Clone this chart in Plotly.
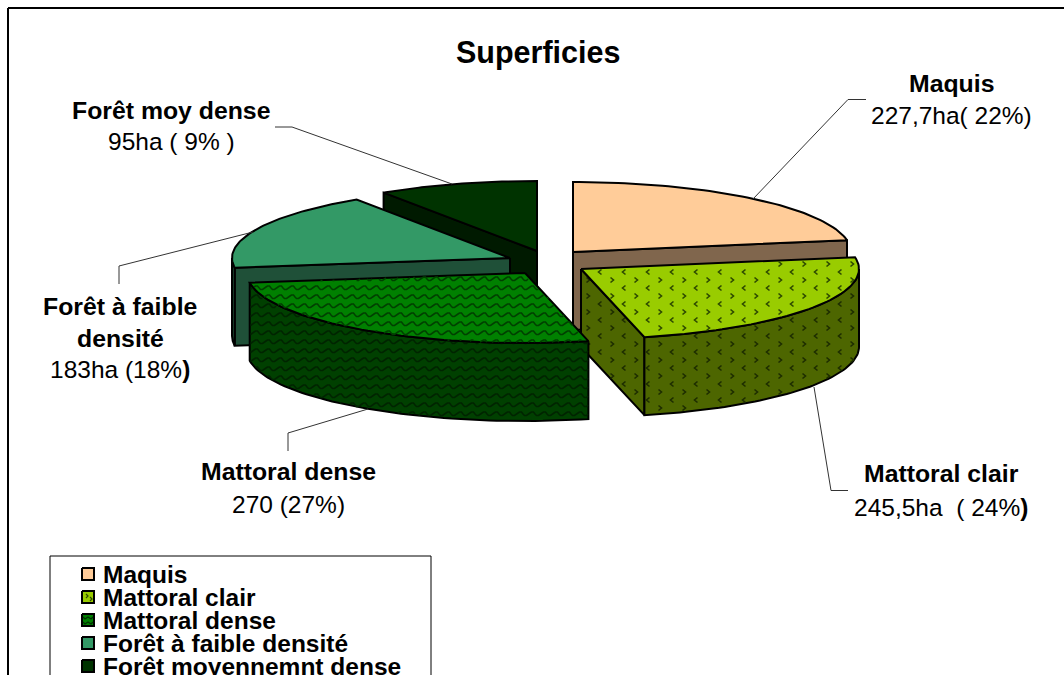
import math
import plotly.graph_objects as go

# ---- data ----
categories = ["Maquis", "Mattoral clair", "Mattoral dense", "Forêt à faible densité", "Forêt moyennemnt dense"]
superficie_ha = [227.7, 245.5, 270, 183, 95]
label_titles = ["Maquis", "Mattoral clair", "Mattoral dense", "Forêt à faible<br>densité", "Forêt moy dense"]
label_values = ["227,7ha( 22%)", "245,5ha  ( 24%<b>)</b>", "270 (27%)", "183ha (18%<b>)</b>", "95ha ( 9% )"]

# ---- styling / layout constants (pixel canvas) ----
W, H = 1064, 675
RX, RY, DEPTH = 278, 70, 78
apex = [(573, 252), (581, 269), (525, 273), (510, 258), (537, 251)]
top_col = ["#FFCC99", "#99CC00", "#008000", "#339966", "#003300"]
side_col = ["#80664D", "#4D6600", "#004000", "#1F5038", "#001A00"]
draw_order = [4, 3, 0, 1, 2]
texture = [None, "chevron", "wave", None, None]
FONT = "Liberation Sans"

total = sum(superficie_ha)
cum = [0]
for v in superficie_ha:
    cum.append(cum[-1] + v / total * 360)


def pt(c, deg, dy=0):
    r = math.radians(deg)
    return c[0] + RX * math.sin(r), c[1] - RY * math.cos(r) + dy


def arc(c, a, b, dy=0, n=60):
    return [pt(c, a + (b - a) * i / n, dy) for i in range(n + 1)]


def poly(pts, fill, lw=2):
    xs = [p[0] for p in pts] + [pts[0][0]]
    ys = [p[1] for p in pts] + [pts[0][1]]
    return go.Scatter(x=xs, y=ys, mode="lines", fill="toself", fillcolor=fill,
                      line=dict(color="#000000", width=lw), hoverinfo="skip", showlegend=False)


def inside(p, pts):
    x, y = p
    res = False
    n = len(pts)
    for i in range(n):
        x1, y1 = pts[i]
        x2, y2 = pts[(i + 1) % n]
        if (y1 > y) != (y2 > y) and x < x1 + (y - y1) / (y2 - y1) * (x2 - x1):
            res = not res
    return res


WAVE_SHAPE = [(0, 0), (2, -1), (3.5, -2), (5.5, -2), (7, 0), (8.5, 1.5), (10.5, 1.5), (12, 0)]


def texture_traces(pts, kind, colour):
    xmin, xmax = min(p[0] for p in pts), max(p[0] for p in pts)
    ymin, ymax = min(p[1] for p in pts), max(p[1] for p in pts)
    xs, ys = [], []
    if kind == "wave":
        y = ymin - (ymin % 9)
        while y <= ymax:
            x0 = xmin - (xmin % 12)
            prev = False
            while x0 <= xmax:
                for dx, dy in WAVE_SHAPE:
                    p = (x0 + dx, y + dy)
                    ok = inside(p, pts)
                    if ok:
                        xs.append(p[0]); ys.append(p[1])
                    elif prev:
                        xs.append(None); ys.append(None)
                    prev = ok
                x0 += 12
            xs.append(None); ys.append(None)
            prev = False
            y += 9
        return go.Scatter(x=xs, y=ys, mode="lines", line=dict(color=colour, width=1.6),
                          hoverinfo="skip", showlegend=False)
    # chevron: rows of < and > glyphs
    y0 = ymin - (ymin % 16)
    row = 0
    y = y0
    while y <= ymax:
        step = 24
        x = xmin - (xmin % step) + (12 if row % 2 else 0)
        sx = 1 if row % 2 else -1
        while x <= xmax:
            a = (x - sx * 1.5, y - 2.5)
            b = (x + sx * 1.5, y)
            c = (x - sx * 1.5, y + 2.5)
            if inside(a, pts) and inside(b, pts) and inside(c, pts):
                xs += [a[0], b[0], c[0], None]
                ys += [a[1], b[1], c[1], None]
            x += step
        y += 8
        row += 1
    return go.Scatter(x=xs, y=ys, mode="lines", line=dict(color=colour, width=1.6),
                      hoverinfo="skip", showlegend=False)


fig = go.Figure()

for i in draw_order:
    c, a, b = apex[i], cum[i], cum[i + 1]
    # cut faces
    if math.cos(math.radians(a - 90)) < 0:
        p = pt(c, a)
        face = [c, p, (p[0], p[1] + DEPTH), (c[0], c[1] + DEPTH)]
        fig.add_trace(poly(face, side_col[i]))
    if math.cos(math.radians(b + 90)) < 0:
        p = pt(c, b)
        face = [c, p, (p[0], p[1] + DEPTH), (c[0], c[1] + DEPTH)]
        fig.add_trace(poly(face, side_col[i]))
        if texture[i]:
            fig.add_trace(texture_traces(face, texture[i], "#1E2E00"))
    # outer rim (front half only)
    lo, hi = max(a, 90), min(b, 270)
    if hi > lo:
        rim = arc(c, lo, hi) + arc(c, hi, lo, DEPTH)
        fig.add_trace(poly(rim, side_col[i]))
        if texture[i]:
            fig.add_trace(texture_traces(rim, texture[i], "#1E2E00" if texture[i] == "chevron" else "#002400"))
    # top
    top = [c] + arc(c, a, b)
    fig.add_trace(poly(top, top_col[i]))
    if texture[i]:
        fig.add_trace(texture_traces(top, texture[i], "#2E4A00" if texture[i] == "chevron" else "#004000"))

# leader lines
leaders = [
    [(866, 99.5), (848, 99.5), (753, 199)],
    [(814, 387), (831, 490.5), (848, 490.5)],
    [(288, 451), (288, 433), (368, 409)],
    [(119, 284), (119, 266), (253, 232)],
    [(275, 127), (292, 127), (452, 184)],
]
for L in leaders:
    fig.add_trace(go.Scatter(x=[p[0] for p in L], y=[p[1] for p in L], mode="lines",
                             line=dict(color="#333333", width=1), hoverinfo="skip", showlegend=False))

ann = []


def text(x, y, s, size, bold=False, anchor="center"):
    ann.append(dict(x=x, y=y, xref="x", yref="y", text=f"<b>{s}</b>" if bold else s, showarrow=False,
                    font=dict(family=FONT, size=size, color="#000000"), xanchor=anchor, yanchor="middle", align="center"))


text(538, 52, "Superficies", 30.5, True)
label_pos = [(951, 83, 115), (941, 473, 507), (288, 471, 504), (120, 306, 369), (171, 110, 141)]
for (x, y1, y2), t, v in zip(label_pos, label_titles, label_values):
    for k, part in enumerate(t.split("<br>")):
        text(x, y1 + 32 * k, part, 24.8, True)
    text(x, y2, v, 24.5)

shapes = [
    dict(type="rect", x0=50, y0=556, x1=431, y1=690, line=dict(color="#000000", width=1), fillcolor="#FFFFFF", layer="below"),
    dict(type="line", x0=8, y0=8, x1=1064, y1=8, line=dict(color="#000000", width=2), layer="below"),
    dict(type="line", x0=8, y0=8, x1=8, y1=675, line=dict(color="#000000", width=2), layer="below"),
]
legend_y = [574, 597, 620, 643, 666]
for y, name, col, tex in zip(legend_y, categories, top_col, texture):
    sq = [(82, y - 6), (94, y - 6), (94, y + 6), (82, y + 6)]
    fig.add_trace(poly(sq, col))
    if tex == "chevron":
        fig.add_trace(go.Scatter(x=[86, 88, 86, None, 90, 92, 90], y=[y - 3, y - 1, y + 1, None, y, y + 2, y + 4],
                                 mode="lines", line=dict(color="#2E4A00", width=1.2), hoverinfo="skip", showlegend=False))
    elif tex == "wave":
        fig.add_trace(go.Scatter(x=[83, 85, 88, 91, 93, None, 83, 85, 88, 91, 93],
                                 y=[y - 3, y - 1, y - 3, y - 1, y - 3, None, y + 2, y + 4, y + 2, y + 4, y + 2],
                                 mode="lines", line=dict(color="#003000", width=1.2), hoverinfo="skip", showlegend=False))
    text(101, y, name, 24.5, True, "left")

fig.update_layout(
    width=W, height=H, margin=dict(l=0, r=0, t=0, b=0), paper_bgcolor="#FFFFFF", plot_bgcolor="#FFFFFF",
    xaxis=dict(range=[0, W], visible=False, fixedrange=True),
    yaxis=dict(range=[H, 0], visible=False, fixedrange=True),
    annotations=ann, shapes=shapes, showlegend=False, font=dict(family=FONT),
)
fig.write_html("out.html", config={"displayModeBar": False},
               post_script="document.body.style.margin='0';document.body.style.overflow='hidden';")
